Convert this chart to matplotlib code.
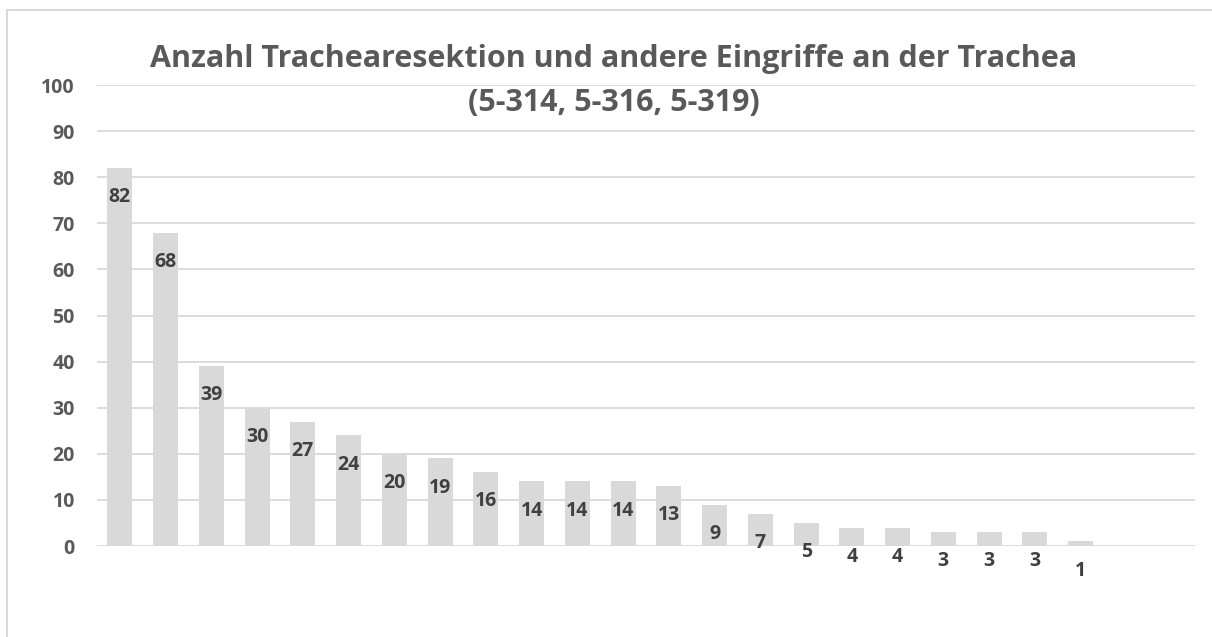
import numpy as np
import matplotlib.pyplot as plt
from matplotlib.patches import Rectangle

# Daten
werte = [82, 68, 39, 30, 27, 24, 20, 19, 16, 14, 14, 14, 13, 9, 7, 5, 4, 4, 3, 3, 3, 1]
n_slots = 24  # zwei leere Kategorien am Ende
yticks = [0, 10, 20, 30, 40, 50, 60, 70, 80, 90, 100]
titel = "Anzahl Trachearesektion und andere Eingriffe an der Trachea\n(5-314, 5-316, 5-319)"

plt.rcParams['font.family'] = ['Open Sans', 'DejaVu Sans']

fig = plt.figure(figsize=(12.12, 6.37), dpi=100)
W, H = 1212, 637
ax = fig.add_axes([97 / W, (H - 546) / H, (1195 - 97) / W, (546 - 85) / H])

x = np.arange(len(werte))
ax.bar(x, werte, width=0.55, color='#d9d9d9', zorder=2)

for xi, v in zip(x, werte):
    ax.annotate(str(v), (xi, v), xytext=(0, -21), textcoords='offset points',
                ha='center', va='center', fontsize=14, fontweight='bold',
                color='#404040', zorder=4)

ax.set_xlim(-0.5, n_slots - 0.5)
ax.set_ylim(0, 100)
ax.set_yticks(yticks)
ax.set_yticklabels([str(t) for t in yticks], fontsize=14, fontweight='bold', color='#595959')
ax.tick_params(axis='y', length=0, pad=16)
ax.set_xticks([])
ax.grid(axis='y', color='#d9d9d9', linewidth=1.3, zorder=0)
for s in ax.spines.values():
    s.set_visible(False)

# Titel
fig.text(614 / W, (H - 81) / H, titel, ha='center', va='center', fontsize=22,
         fontweight='bold', color='#595959', linespacing=1.6, zorder=5)

# Rahmen des Diagramms
fig.patches.append(Rectangle((7 / W, -0.1), 1.2, (H - 10) / H + 0.1,
                             transform=fig.transFigure, fill=False,
                             edgecolor='#d9d9d9', linewidth=1.5))

fig.savefig('out.png', dpi=100)
